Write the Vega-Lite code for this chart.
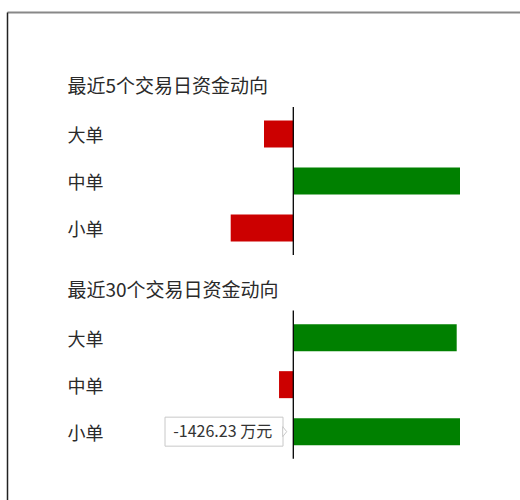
{
  "$schema": "https://vega.github.io/schema/vega-lite/v6.json",
  "width": 513,
  "height": 488,
  "padding": {"left": 7, "top": 12, "right": 0, "bottom": 0},
  "autosize": {"type": "none"},
  "background": "white",
  "config": {"view": {"stroke": null}, "font": "Noto Sans CJK SC"},
  "datasets": {
    "bars": [
      {"row": "大单|5", "value": -2930, "dir": "out"},
      {"row": "中单|5", "value": 16670, "dir": "in"},
      {"row": "小单|5", "value": -6260, "dir": "out"},
      {"row": "大单|30", "value": 16340, "dir": "in"},
      {"row": "中单|30", "value": -1426.23, "dir": "out"},
      {"row": "小单|30", "value": 16670, "dir": "in"}
    ],
    "zero": [
      {"top": "_5", "bot": "_15"},
      {"top": "_18", "bot": "_28"}
    ],
    "tip": [
      {"row": "小单|30", "x1": -12830, "x2": -1030, "xc": -7060, "xa": -860, "label": "-1426.23 万元"}
    ]
  },
  "layer": [
    {
      "data": {"name": "bars"},
      "mark": {"type": "bar", "height": 27},
      "encoding": {
        "y": {
          "field": "row",
          "type": "nominal",
          "scale": {
            "domain": ["_0", "_1", "_2", "_3", "最近5个交易日资金动向", "_5", "_6", "大单|5", "_8", "_9", "中单|5", "_11", "_12", "小单|5", "_14", "_15", "_16", "最近30个交易日资金动向", "_18", "_19", "大单|30", "_21", "_22", "中单|30", "_24", "_25", "小单|30", "_27", "_28", "_29"],
            "paddingInner": 0,
            "paddingOuter": 0.575,
            "align": 0.25
          },
          "axis": {
            "title": null,
            "orient": "left",
            "ticks": false,
            "tickSize": 0,
            "domain": true,
            "domainColor": "#222222",
            "domainWidth": 1.5,
            "labelPadding": -60,
            "labelAlign": "left",
            "labelLimit": 0,
            "labelOverlap": false,
            "labelFontSize": {"condition": {"test": "indexof(datum.value, '最近') == 0", "value": 19}, "value": 18},
            "labelOffset": {"condition": {"test": "indexof(datum.value, '最近') == 0", "value": 0}, "value": 3},
            "labelColor": "#2a2a2a",
            "labelFont": "Noto Sans CJK SC",
            "labelExpr": "indexof(datum.value, '_') == 0 ? '' : split(datum.value, '|')[0]"
          }
        },
        "x": {
          "field": "value",
          "type": "quantitative",
          "scale": {"domain": [-28630, 22670], "nice": false, "zero": false},
          "axis": {
            "title": null,
            "orient": "top",
            "labels": false,
            "ticks": false,
            "grid": false,
            "domainColor": "#888888",
            "domainWidth": 2
          }
        },
        "color": {
          "field": "dir",
          "type": "nominal",
          "scale": {"domain": ["in", "out"], "range": ["#008000", "#cc0000"]},
          "legend": null
        }
      }
    },
    {
      "data": {"name": "zero"},
      "mark": {"type": "rule", "color": "#000000", "strokeWidth": 1.3},
      "encoding": {
        "x": {"datum": 0, "type": "quantitative"},
        "y": {"field": "top", "type": "nominal", "bandPosition": 0.77},
        "y2": {"field": "bot", "bandPosition": 0.23}
      }
    },
    {
      "data": {"name": "tip"},
      "mark": {"type": "bar", "height": 29, "fill": "#ffffff", "stroke": "#c8c8c8", "strokeWidth": 1},
      "encoding": {
        "y": {"field": "row", "type": "nominal"},
        "x": {"field": "x1", "type": "quantitative"},
        "x2": {"field": "x2"}
      }
    },
    {
      "data": {"name": "tip"},
      "mark": {"type": "point", "shape": "M-0.4,-1L0.4,0L-0.4,1Z", "size": 100, "filled": true, "fill": "#ffffff", "stroke": "#c8c8c8", "strokeWidth": 1, "opacity": 1},
      "encoding": {
        "y": {"field": "row", "type": "nominal"},
        "x": {"field": "xa", "type": "quantitative"}
      }
    },
    {
      "data": {"name": "tip"},
      "mark": {"type": "text", "align": "center", "baseline": "middle", "fontSize": 16, "color": "#333333", "font": "Noto Sans CJK SC"},
      "encoding": {
        "y": {"field": "row", "type": "nominal"},
        "x": {"field": "xc", "type": "quantitative"},
        "text": {"field": "label"}
      }
    }
  ]
}
